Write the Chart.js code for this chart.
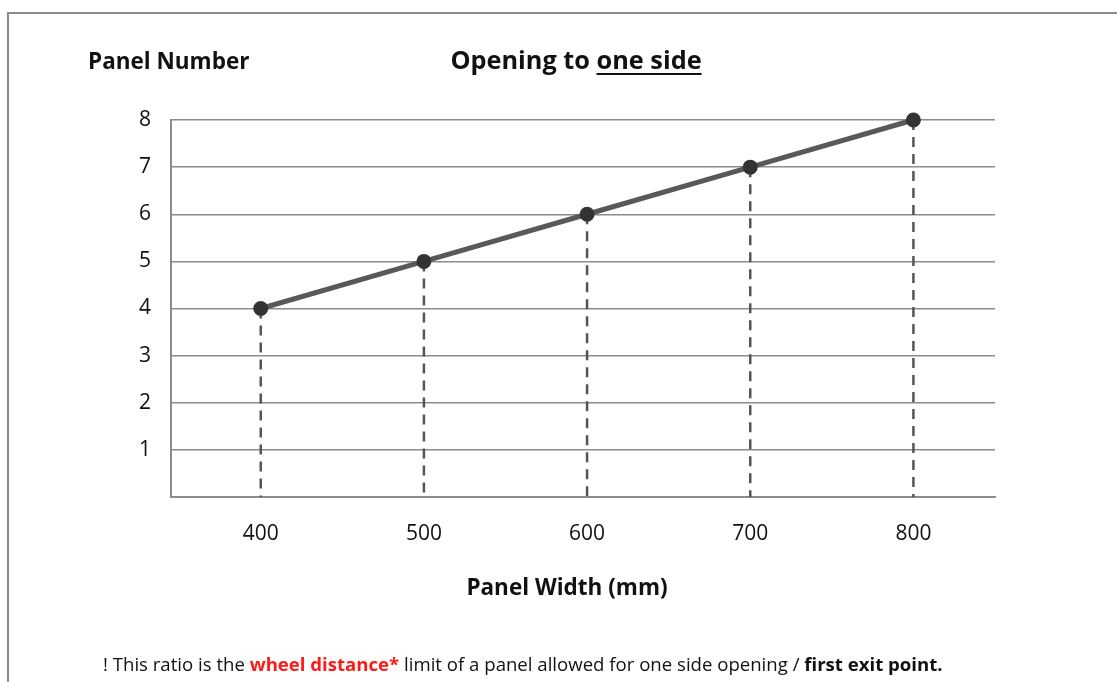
<!DOCTYPE html>
<html>
<head>
<meta charset="utf-8">
<script src="https://cdn.jsdelivr.net/npm/chart.js@4.4.1/dist/chart.umd.min.js"></script>
<style>
  body { margin: 0; background: #fff; font-family: "Open Sans", sans-serif; overflow: hidden; }
  #frame { position: absolute; left: 7px; top: 12px; width: 1300px; height: 900px;
           border-top: 2px solid #8a8a8a; border-left: 2px solid #8a8a8a; }
  #myChart { position: absolute; left: 0; top: 0; }
  .lbl { position: absolute; color: #111; font-weight: 700; white-space: nowrap; line-height: 1.3; }
  #ytitle { left: 88px; top: 46px; font-size: 22.5px; }
  #title { left: 326px; width: 500px; text-align: center; top: 43px; font-size: 25.3px; }
  #title u { text-decoration-thickness: 2px; text-underline-offset: 4px; }
  #xtitle { left: 367px; width: 400px; text-align: center; top: 572px; font-size: 22.5px; }
  #note { left: 103px; top: 652px; font-size: 18.6px; font-weight: 400; color: #111; }
  #note .red { color: #ff1a1a; font-weight: 700; }
  #note b { font-weight: 700; }
</style>
</head>
<body>
<div id="frame"></div>
<canvas id="myChart" width="1117" height="682"></canvas>
<div class="lbl" id="ytitle">Panel Number</div>
<div class="lbl" id="title">Opening to <u>one side</u></div>
<div class="lbl" id="xtitle">Panel Width (mm)</div>
<div class="lbl" id="note">! This ratio is the <span class="red">wheel distance*</span> limit of a panel allowed for one side opening / <b>first exit point.</b></div>
<script>
// data
var panelWidths = [400, 500, 600, 700, 800];
var panelNumbers = [4, 5, 6, 7, 8];
var yTickValues = [0, 1, 2, 3, 4, 5, 6, 7, 8];

var gridColor = '#8c8c8c';
var lineColor = '#595959';

// dashed drop lines, one per point
var dropSets = panelWidths.map(function(w, i) {
    return {
        data: [{x: w, y: panelNumbers[i]}, {x: w, y: 0}],
        borderColor: '#555555',
        borderWidth: 2.5,
        borderDash: [10, 7],
        pointRadius: 0,
        fill: false,
        clip: false,
        order: 2
    };
});

var ctx = document.getElementById('myChart').getContext('2d');
var myChart = new Chart(ctx, {
    type: 'line',
    data: {
        datasets: [{
            data: panelWidths.map(function(w, i) { return {x: w, y: panelNumbers[i]}; }),
            borderColor: lineColor,
            borderWidth: 5,
            pointRadius: 5,
            pointBackgroundColor: '#333333',
            pointBorderColor: '#333333',
            fill: false,
            clip: false,
            order: 1
        }].concat(dropSets)
    },
    options: {
        responsive: false,
        animation: false,
        layout: { padding: { top: 120, right: 122, left: 0, bottom: 0 } },
        plugins: { legend: { display: false }, tooltip: { enabled: false } },
        scales: {
            x: {
                type: 'linear',
                min: 345,
                max: 850,
                afterBuildTicks: function(scale) {
                    scale.ticks = panelWidths.map(function(v) { return {value: v}; });
                },
                afterFit: function(scale) { scale.height = 185; },
                grid: { display: false, drawTicks: false },
                border: { display: true, color: gridColor, width: 2 },
                ticks: {
                    padding: 24,
                    color: '#111',
                    maxRotation: 0,
                    font: { family: 'Open Sans', size: 21 }
                }
            },
            y: {
                min: 0,
                max: 8,
                afterBuildTicks: function(scale) {
                    scale.ticks = yTickValues.map(function(v) { return {value: v}; });
                },
                afterFit: function(scale) { scale.width = 171; },
                grid: { color: gridColor, lineWidth: 1.5, drawTicks: false },
                border: { display: true, color: gridColor, width: 2 },
                ticks: {
                    padding: 20,
                    color: '#111',
                    font: { family: 'Open Sans', size: 21 },
                    callback: function(v) { return v === 0 ? '' : v; }
                }
            }
        }
    }
});
</script>
</body>
</html>
